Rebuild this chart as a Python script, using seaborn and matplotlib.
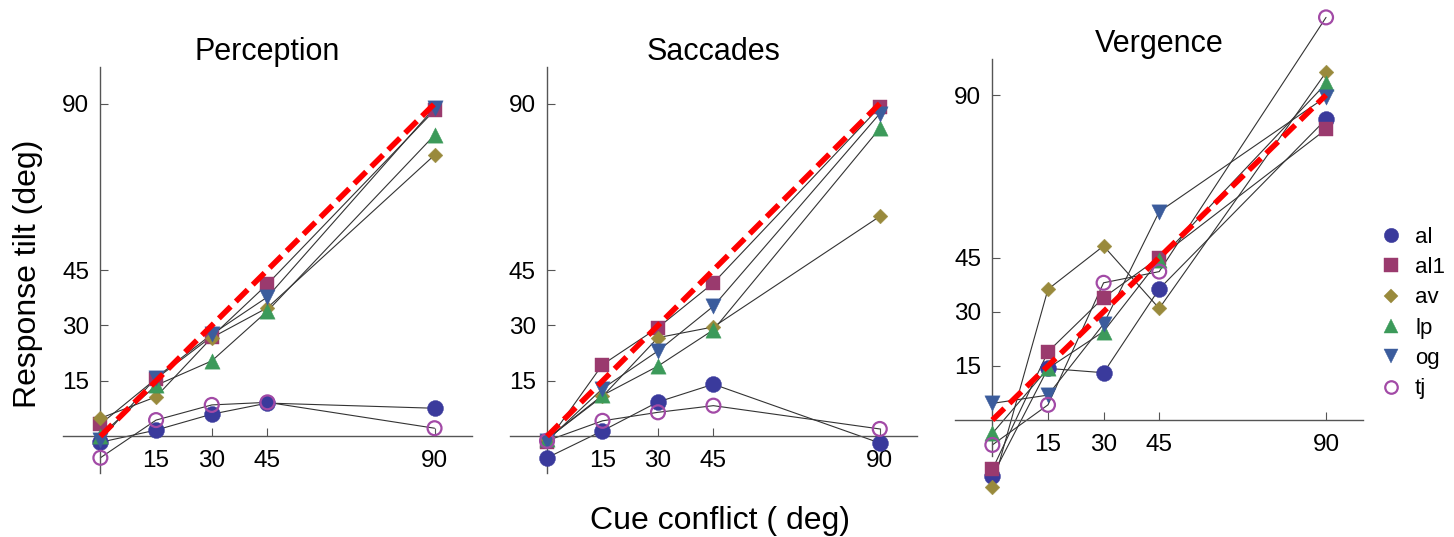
import numpy as np
import pandas as pd
import matplotlib
matplotlib.use("Agg")
import matplotlib.pyplot as plt
from matplotlib.lines import Line2D
import seaborn as sns

# cue conflict levels (deg)
cue = [0, 15, 30, 45, 90]
subjects = ["al", "al1", "av", "lp", "og", "tj"]

# response tilt (deg) per subject
perception = {
    "al":  [-1.6, 1.7, 6.0, 9.0, 7.6],
    "al1": [3.3, 15.6, 27.0, 41.2, 88.2],
    "av":  [4.9, 10.7, 26.7, 34.8, 76.1],
    "lp":  [0.2, 13.8, 20.4, 33.9, 81.5],
    "og":  [-1.0, 15.9, 27.6, 37.7, 88.9],
    "tj":  [-5.8, 4.4, 8.5, 9.2, 2.2],
}
saccades = {
    "al":  [-5.8, 1.5, 9.3, 14.1, -1.8],
    "al1": [-1.6, 19.4, 29.4, 41.5, 89.1],
    "av":  [-0.7, 10.8, 26.7, 29.6, 59.5],
    "lp":  [-0.7, 11.1, 19.0, 28.8, 83.3],
    "og":  [-1.2, 12.9, 23.1, 35.2, 87.3],
    "tj":  [-1.2, 4.2, 6.5, 8.3, 2.0],
}
vergence = {
    "al":  [-15.5, 14.3, 13.1, 36.3, 83.3],
    "al1": [-13.7, 18.9, 33.9, 45.0, 80.5],
    "av":  [-18.6, 36.2, 48.2, 30.9, 96.3],
    "lp":  [-3.7, 14.3, 24.5, 44.3, 93.2],
    "og":  [4.6, 6.9, 26.6, 57.7, 89.5],
    "tj":  [-6.9, 4.2, 38.0, 41.1, 111.5],
}
titles = ["Perception", "Saccades", "Vergence"]
ticks = [15, 30, 45, 90]

# marker style per subject: (marker, size, color, filled)
styles = {
    "al":  ("o", 11.5, "#3a3a9c", True),
    "al1": ("s", 10.5, "#9a3a6e", True),
    "av":  ("D", 7.5, "#998a3c", True),
    "lp":  ("^", 11, "#3c9a5a", True),
    "og":  ("v", 11, "#3b5c9c", True),
    "tj":  ("o", 10, "#a24aa6", False),
}

sns.set_style("white")
plt.rcParams["font.family"] = ["Liberation Sans", "DejaVu Sans"]
plt.rcParams["text.color"] = "black"
plt.rcParams["xtick.color"] = "black"
plt.rcParams["ytick.color"] = "black"

fig = plt.figure(figsize=(14.54, 5.37), dpi=100)
positions = [
    [0.0435, 0.1186, 0.2809, 0.7572],
    [0.3508, 0.1186, 0.2797, 0.7572],
    [0.6570, 0.1506, 0.2805, 0.7397],
]

for data, title, pos in zip([perception, saccades, vergence], titles, positions):
    ax = fig.add_axes(pos)
    df = pd.DataFrame([(s, c, v) for s in subjects for c, v in zip(cue, data[s])],
                      columns=["subject", "cue", "tilt"])
    sns.lineplot(data=df, x="cue", y="tilt", units="subject", estimator=None,
                 color="#333333", lw=0.8, sort=False, legend=False, ax=ax,
                 clip_on=False, zorder=2)
    for s in subjects:
        m, ms, c, filled = styles[s]
        sub = df[df.subject == s]
        sns.scatterplot(x=sub.cue, y=sub.tilt, marker=m, s=ms ** 2,
                        color=c, facecolor=c if filled else "none", edgecolor=c,
                        linewidth=0.3 if filled else 1.6, ax=ax, clip_on=False,
                        zorder=3, legend=False)
    # identity line
    sns.lineplot(x=[0, 90], y=[0, 90], color="#ff0000", lw=4,
                 ax=ax, zorder=5, clip_on=False).lines[-1].set_dashes([3, 1.3])

    ax.set_xlim(-10, 100)
    ax.set_ylim(-10, 100)
    ax.spines["left"].set_position(("data", 0))
    ax.spines["bottom"].set_position(("data", 0))
    for side in ["top", "right"]:
        ax.spines[side].set_visible(False)
    for side in ["left", "bottom"]:
        ax.spines[side].set_color("#555555")
        ax.spines[side].set_linewidth(1.0)
    ax.set_xticks(ticks)
    ax.set_yticks(ticks)
    ax.tick_params(direction="in", length=6, width=0.8, color="#555555",
                   labelsize=17.5, bottom=True, left=True, labelcolor="black")
    ax.tick_params(axis="x", pad=10)
    ax.tick_params(axis="y", pad=8)
    ax.set_xlabel("")
    ax.set_ylabel("")
    ax.set_title(title, fontsize=22, pad=5, color="black")
    ax.patch.set_alpha(0)

fig.text(0.019, 0.49, "Response tilt (deg)", rotation=90, fontsize=23,
         ha="center", va="center")
fig.text(0.495, 0.030, "Cue conflict ( deg)", fontsize=23, ha="center", va="center")

handles = []
for s in subjects:
    m, ms, c, filled = styles[s]
    handles.append(Line2D([], [], ls="none", marker=m, markersize=ms * 0.9,
                          markerfacecolor=c if filled else "none",
                          markeredgecolor=c, markeredgewidth=0.3 if filled else 1.6))
fig.legend(handles, subjects, loc="upper left", bbox_to_anchor=(0.935, 0.615),
           frameon=False, fontsize=16, handlelength=1.0, handletextpad=0.6,
           labelspacing=0.42)

fig.savefig("out.png", dpi=100)
